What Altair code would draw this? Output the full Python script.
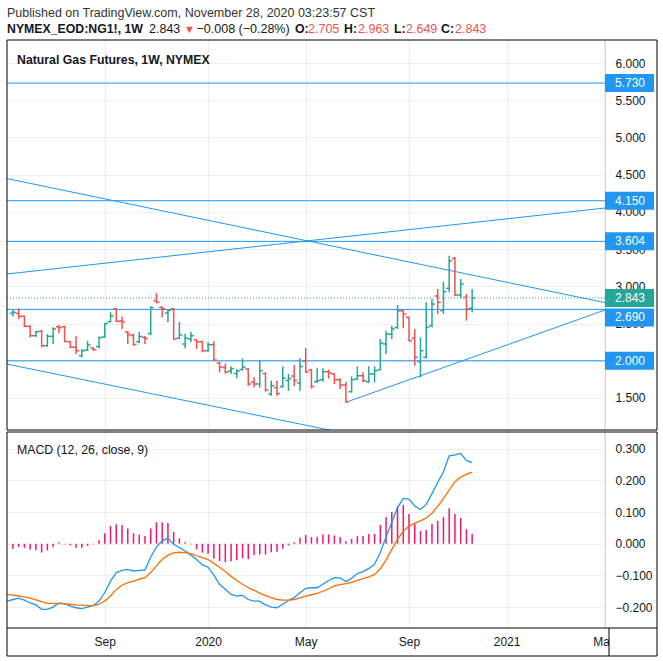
import altair as alt
import pandas as pd

FONT = "Liberation Sans"
TXT = "#131722"
BLUE = "#2196f3"
GREEN = "#26a69a"
RED = "#ef5350"
ORANGE = "#ff6d00"
PINK = "#f2176d"
GRID = "#eeeeee"

W, H1, H2 = 598, 390, 196

# ---------------- data ----------------
first_bar = "2019-05-13"      # weekly bars, Monday dates
opens = [2.637, 2.637, 2.597, 2.463, 2.337, 2.396, 2.202, 2.328, 2.457, 2.457,
         2.256, 2.181, 2.068, 2.144, 2.171, 2.191, 2.319, 2.525, 2.699, 2.534,
         2.386, 2.339, 2.256, 2.315, 2.366, 2.807, 2.718, 2.642, 2.698, 2.302,
         2.225, 2.292, 2.283, 2.256, 2.135, 2.216, 1.970, 1.909, 1.862, 1.829,
         1.882, 1.889, 1.714, 1.688, 1.829, 1.553, 1.640, 1.654, 1.735, 1.795,
         1.701, 1.997, 1.876, 1.718, 1.745, 1.853, 1.822, 1.745, 1.674, 1.584,
         1.755, 1.799, 1.718, 1.822, 1.880, 2.225, 2.359, 2.449, 2.672, 2.584,
         2.302, 1.987, 2.046, 2.471, 2.870, 2.672, 2.973, 3.376, 2.883, 2.852,
         2.705]
highs = [2.686, 2.705, 2.605, 2.471, 2.404, 2.417, 2.359, 2.449, 2.480, 2.471,
         2.265, 2.328, 2.158, 2.269, 2.181, 2.323, 2.507, 2.651, 2.706, 2.595,
         2.400, 2.366, 2.386, 2.332, 2.729, 2.910, 2.729, 2.688, 2.706, 2.525,
         2.359, 2.390, 2.292, 2.269, 2.248, 2.261, 1.979, 1.963, 1.923, 1.889,
         2.030, 1.899, 1.782, 2.006, 1.842, 1.732, 1.732, 1.923, 1.822, 1.943,
         2.033, 2.171, 1.889, 1.899, 1.899, 1.880, 1.835, 1.764, 1.718, 1.791,
         1.925, 1.845, 1.925, 1.925, 2.292, 2.404, 2.471, 2.749, 2.695, 2.584,
         2.427, 2.315, 2.785, 2.830, 2.964, 3.062, 3.411, 3.390, 3.098, 2.897,
         2.963]
lows = [2.597, 2.561, 2.457, 2.315, 2.323, 2.181, 2.185, 2.225, 2.373, 2.248,
        2.175, 2.091, 2.046, 2.135, 2.135, 2.165, 2.312, 2.517, 2.525, 2.427,
        2.225, 2.202, 2.238, 2.225, 2.346, 2.772, 2.584, 2.517, 2.283, 2.292,
        2.167, 2.248, 2.158, 2.114, 2.122, 2.010, 1.845, 1.829, 1.822, 1.764,
        1.869, 1.665, 1.643, 1.640, 1.587, 1.530, 1.527, 1.640, 1.594, 1.661,
        1.598, 1.842, 1.627, 1.701, 1.718, 1.764, 1.688, 1.621, 1.442, 1.576,
        1.745, 1.710, 1.701, 1.710, 1.880, 2.091, 2.292, 2.427, 2.436, 2.269,
        1.934, 1.778, 2.033, 2.449, 2.628, 2.628, 2.920, 2.874, 2.839, 2.538,
        2.649]
closes = [2.651, 2.597, 2.463, 2.337, 2.390, 2.202, 2.328, 2.427, 2.444, 2.261,
          2.181, 2.135, 2.135, 2.212, 2.149, 2.312, 2.500, 2.605, 2.530, 2.521,
          2.353, 2.218, 2.326, 2.299, 2.715, 2.785, 2.699, 2.678, 2.292, 2.346,
          2.302, 2.337, 2.256, 2.135, 2.216, 2.010, 1.916, 1.849, 1.896, 1.862,
          1.916, 1.688, 1.688, 1.866, 1.607, 1.665, 1.560, 1.768, 1.761, 1.735,
          1.923, 1.849, 1.654, 1.735, 1.853, 1.835, 1.745, 1.674, 1.450, 1.745,
          1.799, 1.732, 1.822, 1.866, 2.238, 2.359, 2.427, 2.672, 2.628, 2.269,
          2.046, 2.135, 2.449, 2.762, 2.785, 2.928, 3.344, 2.883, 3.031, 2.695,
          2.843]

first_macd = "2019-05-06"
macd_line = [-0.181, -0.176, -0.172, -0.178, -0.187, -0.193, -0.207, -0.207, -0.200, -0.187,
             -0.189, -0.197, -0.202, -0.205, -0.200, -0.195, -0.181, -0.154, -0.118, -0.091,
             -0.084, -0.081, -0.086, -0.084, -0.083, -0.042, -0.010, 0.009, 0.017, -0.002,
             -0.012, -0.023, -0.036, -0.050, -0.067, -0.074, -0.099, -0.128, -0.144, -0.160,
             -0.165, -0.163, -0.176, -0.181, -0.181, -0.193, -0.200, -0.202, -0.191, -0.179,
             -0.170, -0.155, -0.141, -0.139, -0.139, -0.128, -0.116, -0.107, -0.108, -0.119,
             -0.109, -0.094, -0.088, -0.078, -0.065, -0.028, 0.021, 0.068, 0.114, 0.143,
             0.141, 0.119, 0.108, 0.124, 0.158, 0.193, 0.227, 0.277, 0.280, 0.285,
             0.263, 0.256]
signal_line = [-0.160, -0.162, -0.165, -0.168, -0.172, -0.177, -0.183, -0.188, -0.188, -0.189,
               -0.190, -0.191, -0.193, -0.194, -0.195, -0.195, -0.191, -0.181, -0.165, -0.144,
               -0.131, -0.123, -0.118, -0.112, -0.107, -0.091, -0.070, -0.049, -0.036, -0.029,
               -0.027, -0.028, -0.031, -0.038, -0.044, -0.050, -0.062, -0.074, -0.088, -0.103,
               -0.116, -0.128, -0.139, -0.147, -0.156, -0.164, -0.170, -0.176, -0.178, -0.178,
               -0.176, -0.171, -0.165, -0.161, -0.157, -0.150, -0.142, -0.133, -0.129, -0.126,
               -0.122, -0.116, -0.110, -0.105, -0.097, -0.079, -0.051, -0.018, 0.014, 0.040,
               0.055, 0.065, 0.072, 0.081, 0.096, 0.118, 0.143, 0.169, 0.196, 0.210,
               0.219, 0.226]
hist_vals = [-0.016, -0.010, -0.013, -0.018, -0.020, -0.028, -0.021, -0.010, 0.004, -0.002,
             -0.005, -0.013, -0.013, -0.007, -0.002, 0.011, 0.033, 0.056, 0.061, 0.059,
             0.048, 0.033, 0.029, 0.024, 0.048, 0.068, 0.068, 0.065, 0.037, 0.017,
             0.005, -0.002, -0.018, -0.028, -0.032, -0.047, -0.055, -0.058, -0.055, -0.052,
             -0.046, -0.049, -0.036, -0.034, -0.034, -0.027, -0.025, -0.016, -0.005, 0.005,
             0.019, 0.027, 0.021, 0.021, 0.029, 0.029, 0.026, 0.021, 0.008, 0.015,
             0.024, 0.024, 0.031, 0.031, 0.059, 0.084, 0.100, 0.119, 0.122, 0.094,
             0.061, 0.040, 0.043, 0.062, 0.072, 0.084, 0.112, 0.094, 0.081, 0.046,
             0.031]

level_prices = [5.730, 4.150, 3.604, 2.690, 2.000]
last_price = 2.843

trend_x1 = ["2019-05-06", "2019-05-06", "2019-05-06", "2020-06-22"]
trend_y1 = [4.447, 3.166, 1.955, 1.442]
trend_x2 = ["2021-05-04", "2021-05-04", "2021-05-04", "2021-05-04"]
trend_y2 = [2.781, 4.052, 0.312, 2.682]

price_ticks = [1.5, 2.0, 2.5, 3.0, 3.5, 4.0, 4.5, 5.0, 5.5, 6.0]
macd_ticks = [-0.2, -0.1, 0.0, 0.1, 0.2, 0.3]
time_ticks = ["2019-09-02", "2020-01-06", "2020-05-04", "2020-09-07", "2021-01-04", "2021-05-03"]
x_range = ["2019-05-05 18:14", "2021-05-04 00:00"]
price_range = [1.070, 6.309]
macd_range = [-0.2659, 0.3524]


def ms(s):
    return int(pd.Timestamp(s, tz="UTC").timestamp() * 1000)


bar_dates = pd.date_range(first_bar, periods=len(opens), freq="7D").strftime("%Y-%m-%d")
macd_dates = pd.date_range(first_macd, periods=len(macd_line), freq="7D").strftime("%Y-%m-%d")

bars_df = pd.DataFrame({"date": bar_dates, "o": opens, "h": highs, "l": lows, "c": closes})
macd_df = pd.DataFrame({"date": macd_dates, "macd": macd_line, "signal": signal_line})
hist_df = pd.DataFrame({"date": bar_dates, "hv": hist_vals})
levels_df = pd.DataFrame({"p": level_prices, "t": [f"{v:.3f}" for v in level_prices]})
last_df = pd.DataFrame({"p": [last_price], "t": [f"{last_price:.3f}"]})
trend_df = pd.DataFrame({"x1": trend_x1, "y1": trend_y1, "x2": trend_x2, "y2": trend_y2})
one = pd.DataFrame({"k": [0]})

# ---------------- scales / axes ----------------
xs = alt.Scale(type="utc", domain=[ms(v) for v in x_range])
tick_ms = [ms(v) for v in time_ticks]

ax_main_x = alt.Axis(values=tick_ms, grid=True, gridColor=GRID, labels=False, ticks=False,
                     domain=False, title=None)
ax_macd_x = alt.Axis(values=tick_ms, grid=True, gridColor=GRID, ticks=False, domain=False,
                     title=None, labelPadding=8, labelFontSize=12, labelFont=FONT,
                     labelColor=TXT, labelFlush=False, labelOverlap=False,
                     labelExpr="utcmonth(datum.value) == 0 ? utcFormat(datum.value, '%Y') : utcFormat(datum.value, '%b')")
ys1 = alt.Scale(domain=price_range, zero=False, nice=False)
ax_main_y = alt.Axis(orient="right", values=price_ticks, format=".3f", grid=True, gridColor=GRID,
                     ticks=False, domain=True, domainColor="#d8d8d8", labelPadding=10,
                     labelFontSize=12, labelFont=FONT, labelColor=TXT, title=None,
                     labelOverlap=False)
ys2 = alt.Scale(domain=macd_range, zero=False, nice=False)
ax_macd_y = alt.Axis(orient="right", values=macd_ticks, format=".3f", grid=True, gridColor=GRID,
                     ticks=False, domain=True, domainColor="#d8d8d8", labelPadding=10,
                     labelFontSize=12, labelFont=FONT, labelColor=TXT, title=None,
                     labelOverlap=False)


def XM(f):
    return alt.X(f, type="temporal", scale=xs, axis=ax_main_x)


def YM(f):
    return alt.Y(f, type="quantitative", scale=ys1, axis=ax_main_y)


def XD(f):
    return alt.X(f, type="temporal", scale=xs, axis=ax_macd_x)


def YD(f):
    return alt.Y(f, type="quantitative", scale=ys2, axis=ax_macd_y)


def txt(text, x, y, size=12.5, bold=False, color=TXT):
    return alt.Chart(one).mark_text(
        text=text, align="left", baseline="alphabetic", font=FONT, fontSize=size,
        fontWeight="bold" if bold else "normal", color=color
    ).encode(x=alt.value(x), y=alt.value(y))


# ---------------- header ----------------
header = alt.layer(
    txt("Published on TradingView.com, November 28, 2020 03:23:57 CST", 0, 16.5, 12.5, False, "#333333"),
    txt("NYMEX_EOD:NG1!, 1W", 0, 33, 12.3, True),
    txt("2.843", 142, 33, 12.5),
    txt("▼", 177, 33, 11, False, RED),
    txt("−0.008 (−0.28%)", 189.5, 33, 12.5),
    txt("O:", 288, 33, 12.3, True),
    txt("2.705", 301, 33, 12.5, False, RED),
    txt("H:", 337, 33, 12.3, True),
    txt("2.963", 351, 33, 12.5, False, RED),
    txt("L:", 387, 33, 12.3, True),
    txt("2.649", 399, 33, 12.5, False, RED),
    txt("C:", 434, 33, 12.3, True),
    txt("2.843", 448, 33, 12.5, False, RED),
).properties(width=W, height=39)

# ---------------- main price pane ----------------
levels = alt.Chart(levels_df).mark_rule(color=BLUE, strokeWidth=1).encode(y=YM("p"))
lastline = alt.Chart(last_df).mark_rule(color=GREEN, strokeWidth=1, strokeDash=[1, 2]).encode(y=YM("p"))
trends = alt.Chart(trend_df).mark_rule(color=BLUE, strokeWidth=1, clip=True).encode(
    x=XM("x1"), x2=alt.X2("x2"), y=YM("y1"), y2=alt.Y2("y2"))

base = alt.Chart(bars_df).transform_calculate(dir="datum.c >= datum.o ? 'up' : 'down'")
col = alt.Color("dir:N", scale=alt.Scale(domain=["up", "down"], range=[GREEN, RED]), legend=None)
hl = base.mark_rule(strokeWidth=1.5).encode(x=XM("date"), y=YM("l"), y2=alt.Y2("h"), color=col)
otick = base.mark_rule(strokeWidth=1.5, xOffset=-3, x2Offset=0.6).encode(
    x=XM("date"), x2=alt.X2("date"), y=YM("o"), color=col)
ctick = base.mark_rule(strokeWidth=1.5, xOffset=-0.6, x2Offset=3).encode(
    x=XM("date"), x2=alt.X2("date"), y=YM("c"), color=col)

lv = alt.Chart(levels_df)
box_a = lv.transform_filter("datum.p != 2.69").mark_rect(color=BLUE, yOffset=-9, y2Offset=9).encode(
    x=alt.value(598), x2=alt.value(647), y=YM("p"), y2=alt.Y2("p"))
txt_a = lv.transform_filter("datum.p != 2.69").mark_text(
    align="left", baseline="middle", color="white", fontSize=12, font=FONT).encode(
    x=alt.value(608), y=YM("p"), text="t:N")
box_b = lv.transform_filter("datum.p == 2.69").mark_rect(color=BLUE, yOffset=-1, y2Offset=17).encode(
    x=alt.value(598), x2=alt.value(647), y=YM("p"), y2=alt.Y2("p"))
txt_b = lv.transform_filter("datum.p == 2.69").mark_text(
    align="left", baseline="middle", color="white", fontSize=12, font=FONT, dy=8).encode(
    x=alt.value(608), y=YM("p"), text="t:N")
box_c = alt.Chart(last_df).mark_rect(color=GREEN, yOffset=-9, y2Offset=9).encode(
    x=alt.value(598), x2=alt.value(647), y=YM("p"), y2=alt.Y2("p"))
txt_c = alt.Chart(last_df).mark_text(
    align="left", baseline="middle", color="white", fontSize=12, font=FONT).encode(
    x=alt.value(608), y=YM("p"), text="t:N")

frame1 = alt.Chart(one).mark_rect(fillOpacity=0, stroke="black", strokeWidth=1).encode(
    x=alt.value(0), x2=alt.value(650), y=alt.value(0), y2=alt.value(H1))

main = alt.layer(
    levels, lastline, trends, hl, otick, ctick,
    box_b, txt_b, box_a, txt_a, box_c, txt_c,
    txt("Natural Gas Futures, 1W, NYMEX", 10, 24, 12.3, True),
    frame1,
).properties(width=W, height=H1)

# ---------------- MACD pane ----------------
hist = alt.Chart(hist_df).transform_calculate(z="0").mark_rule(color=PINK, strokeWidth=1.5).encode(
    x=XD("date"), y=YD("z"), y2=alt.Y2("hv"))
mline = alt.Chart(macd_df).mark_line(color=BLUE, strokeWidth=1.3, clip=True).encode(
    x=XD("date"), y=YD("macd"))
sline = alt.Chart(macd_df).mark_line(color=ORANGE, strokeWidth=1.3, clip=True).encode(
    x=XD("date"), y=YD("signal"))

corner = alt.Chart(one).mark_rect(color="white").encode(
    x=alt.value(602), x2=alt.value(649.5), y=alt.value(H2 + 0.5), y2=alt.value(223.5))
sep_h = alt.Chart(one).mark_rule(color="black", strokeWidth=1).encode(
    x=alt.value(0), x2=alt.value(650), y=alt.value(H2))
sep_v = alt.Chart(one).mark_rule(color="black", strokeWidth=1).encode(
    x=alt.value(602), y=alt.value(H2), y2=alt.value(224))
frame2 = alt.Chart(one).mark_rect(fillOpacity=0, stroke="black", strokeWidth=1).encode(
    x=alt.value(0), x2=alt.value(650), y=alt.value(0), y2=alt.value(224))

macd = alt.layer(
    hist, mline, sline,
    txt("MACD (12, 26, close, 9)", 10, 22, 12.3),
    corner, sep_h, sep_v, frame2,
).properties(width=W, height=H2)

chart = alt.vconcat(header, main, macd, spacing=0).properties(
    padding={"left": 6, "top": 0, "right": 0, "bottom": 0},
    background="white",
).configure_view(stroke=None)

chart.save("out.html", embed_options={"renderer": "svg", "actions": False})
